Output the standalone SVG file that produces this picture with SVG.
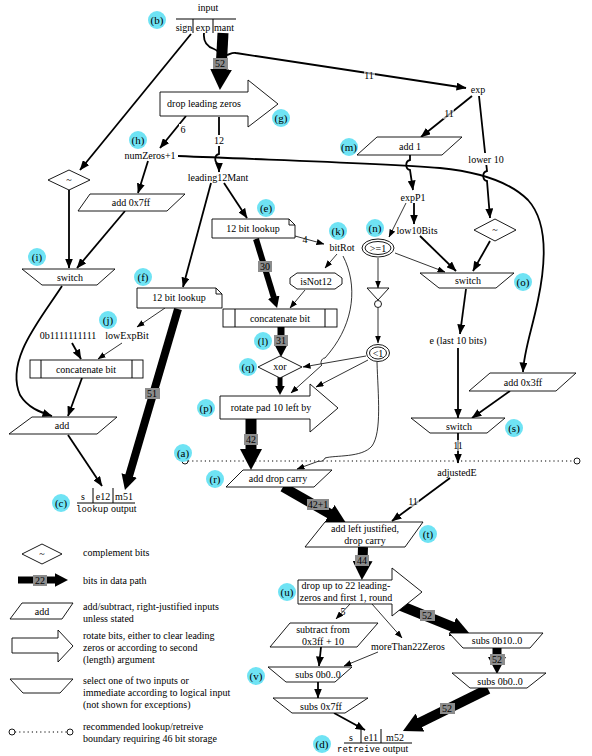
<svg xmlns="http://www.w3.org/2000/svg" width="592" height="756" viewBox="0 0 592 756">
<style>
text{font-family:"Liberation Serif",serif;font-size:10px;fill:#000}
.m{text-anchor:middle}
.mono{font-family:"Liberation Mono",monospace}
.n{fill:#fff;stroke:#000;stroke-width:0.9}
.e2{fill:none;stroke:#000;stroke-width:1.8;marker-end:url(#a2)}
.e1{fill:none;stroke:#000;stroke-width:0.8;marker-end:url(#a1)}
.t{fill:none;stroke:#000;marker-end:url(#at)}
.gl{fill:#8c8c8c}
.wl{fill:#fff}
.bd circle{fill:#6fe3f4}
.bd text{font-size:11px;text-anchor:middle}
.ln{fill:none;stroke:#000;stroke-width:1}
</style>
<defs>
<marker id="a2" markerUnits="userSpaceOnUse" markerWidth="10" markerHeight="8" refX="9.5" refY="4" orient="auto"><path d="M0,0 L10,4 L0,8 z"/></marker>
<marker id="a1" markerUnits="userSpaceOnUse" markerWidth="8" markerHeight="6" refX="7.5" refY="3" orient="auto"><path d="M0,0 L8,3 L0,6 z"/></marker>
<marker id="at" markerUnits="strokeWidth" markerWidth="2" markerHeight="2" refX="0.1" refY="1" orient="auto" viewBox="0 0 2 2"><path d="M0,0 L1.9,1 L0,2 z"/></marker>
</defs>

<g id="connectors">
<!-- thick data paths -->
<path class="t" stroke-width="11" d="M223,33 L221,70.2"/>
<path class="t" stroke-width="6" d="M256,239 L273.9,297.7"/>
<path class="t" stroke-width="7" d="M281,327 L281,344.4"/>
<path class="t" stroke-width="5" d="M280,377 L280,386"/>
<path class="t" stroke-width="11" d="M251,419 L251,450.2"/>
<path class="t" stroke-width="10" d="M283,487 L330.4,514.1"/>
<path class="t" stroke-width="10" d="M363,547 L362.5,562"/>
<path class="t" stroke-width="8" d="M178,309 L129,476.2"/>
<path class="t" stroke-width="10" d="M394,603 L453.3,627.2"/>
<path class="t" stroke-width="9" d="M497,648 L497,657.8"/>
<path class="t" stroke-width="10" d="M488,689 L419.1,723"/>
<!-- thin / medium -->
<path class="e2" d="M204,33 C203,42 208,47 214,49 C219,51 220,55 226,55 C230,55 231,52 236,53 L466,88"/>
<path class="e2" d="M191,34 L80,170"/>
<path class="e2" d="M69,190 L69,268"/>
<path class="e2" d="M186,116 L160,148"/>
<path class="e2" d="M219,117 L219,154 c-5,1 -5,9 0,10 L219,172"/>
<path class="e2" d="M178,156 C300,161 380,163 440,168 C480,172 510,182 528,200 C548,222 546,262 538,300 C532,330 524,350 523,372"/>
<path class="e2" d="M148,161 L138,193"/>
<path class="e2" d="M125,211 L77,268"/>
<path class="e2" d="M62,286 C40,320 5,360 20,395 C28,408 40,412 52,416"/>
<path class="e2" d="M211,183 L183,287"/>
<path class="e2" d="M224,183 L247,218"/>
<path class="e1" d="M295,236 L324,244"/>
<path class="e1" d="M337,254 L325,268"/>
<path class="e1" d="M305,290 L290,308"/>
<path class="e1" d="M343,256 C358,285 354,322 330,352 L325,358 c-4,0 -5,6 -3,7 L291,393"/>
<path class="e1" d="M366,356 L303,367"/>
<path class="e1" d="M368,360 L316,387"/>
<path class="e1" d="M377,362 C378,395 382,432 372,446 C362,458 335,455 325,458 c-1,3 -5,4 -6,3 L297,469"/>
<path class="e2" d="M472,96 L421,137"/>
<path class="e2" d="M479,96 L487,171 c-5,1 -5,9 0,10 L490,218"/>
<path class="e2" d="M410,155 L410,160 c-5,1 -5,9 0,10 L413,190"/>
<path class="e1" d="M406,203 L389,237"/>
<path class="e2" d="M414,203 L414,224"/>
<path class="e1" d="M378,258 L378,288"/>
<path class="e1" d="M378,308 L378,343"/>
<path class="e1" d="M395,253 L445,272"/>
<path class="e2" d="M420,236 L456,271"/>
<path class="e2" d="M490,241 L473,271"/>
<path class="e2" d="M466,289 L460,334"/>
<path class="e2" d="M458,348 L458,418"/>
<path class="e2" d="M510,391 L472,418"/>
<path class="e2" d="M458,433 L458,463"/>
<path class="e2" d="M450,478 L392,521"/>
<path class="e2" d="M72,343 L81,359"/>
<path class="e1" d="M122,343 L98,359"/>
<path class="e1" d="M165,308 L137,327"/>
<path class="e2" d="M82,378 L68,416"/>
<path class="e2" d="M68,435 L102,486"/>
<path class="e1" d="M350,604 L336,619"/>
<path class="e1" d="M372,604 L402,638"/>
<path class="e1" d="M378,652 L344,666"/>
<path class="e2" d="M321,647 L319,666"/>
<path class="e2" d="M318,682 L318,698"/>
<path class="e2" d="M334,713 L365,730"/>
<!-- boundary -->
<line x1="188" y1="461" x2="574" y2="461" stroke="#000" stroke-width="1" stroke-dasharray="1.2,3"/>
<circle cx="185" cy="461" r="3" class="n"/>
<circle cx="577" cy="461" r="3" class="n"/>
<!-- edge labels -->
<rect class="gl" x="213" y="58" width="15" height="11"/><text class="m" x="220" y="67">52</text>
<rect class="wl" x="364" y="70" width="11" height="11" fill-opacity="0.6"/><text class="m" x="369" y="79">11</text>
<rect class="wl" x="179" y="124" width="8" height="11"/><text class="m" x="183" y="133">6</text>
<rect class="wl" x="213" y="135" width="12" height="11"/><text class="m" x="219" y="144">12</text>
<rect class="wl" x="443" y="108" width="11" height="11" fill-opacity="0.6"/><text class="m" x="449" y="117">11</text>
<rect class="wl" x="466" y="153" width="40" height="12"/><text class="m" x="486" y="163">lower 10</text>
<text class="m" x="305" y="243">4</text>
<rect class="gl" x="258" y="261" width="14" height="11"/><text class="m" x="265" y="270">30</text>
<rect class="gl" x="274" y="335" width="14" height="11"/><text class="m" x="281" y="344">31</text>
<rect class="gl" x="244" y="434" width="14" height="11"/><text class="m" x="251" y="443">42</text>
<rect class="gl" x="307" y="499" width="22" height="11"/><text class="m" x="318" y="508">42+1</text>
<rect class="wl" x="452" y="440" width="12" height="11" fill-opacity="0.6"/><text class="m" x="458" y="449">11</text>
<rect class="wl" x="408" y="496" width="11" height="11" fill-opacity="0.6"/><text class="m" x="413" y="505">11</text>
<rect class="gl" x="145" y="388" width="15" height="11"/><text class="m" x="152" y="397">51</text>
<rect class="gl" x="355" y="555" width="14" height="11"/><text class="m" x="362" y="564">44</text>
<text class="m" x="343" y="615">5</text>
<rect class="gl" x="420" y="610" width="15" height="11"/><text class="m" x="427" y="619">52</text>
<rect class="gl" x="490" y="654" width="15" height="11"/><text class="m" x="497" y="663">52</text>
<rect class="gl" x="440" y="703" width="15" height="11"/><text class="m" x="447" y="712">52</text>
</g>

<g id="input">
<text class="m" x="208" y="11">input</text>
<line x1="176" y1="19" x2="236" y2="19" class="ln"/>
<line x1="193" y1="19" x2="193" y2="33" class="ln"/>
<line x1="213" y1="19" x2="213" y2="33" class="ln"/>
<text class="m" x="184" y="31">sign</text>
<text class="m" x="203" y="31">exp</text>
<text class="m" x="224" y="31">mant</text>
</g>
<g id="dropLeadingZeros">
<polygon class="n" points="160,92 248,92 248,80 278,104 248,127 248,116 160,116"/>
<text class="m" x="204" y="107">drop leading zeros</text>
</g>
<g id="numZeros"><text class="m" x="150" y="159">numZeros+1</text></g>
<g id="leading12Mant"><text class="m" x="218" y="181">leading12Mant</text></g>
<g id="exp"><text class="m" x="478" y="93">exp</text></g>
<g id="add1">
<polygon class="n" points="377,137 462,137 442,155 357,155"/>
<text class="m" x="410" y="150">add 1</text>
</g>
<g id="compL">
<polygon class="n" points="48,180 69,170 90,180 69,190"/>
<text class="m" x="69" y="183">~</text>
</g>
<g id="add7ff">
<polygon class="n" points="90,194 185,194 167,211 78,211"/>
<text class="m" x="131" y="206">add 0x7ff</text>
</g>
<g id="switchI">
<polygon class="n" points="22,269 115,269 97,285 42,285"/>
<text class="m" x="70" y="281">switch</text>
</g>
<g id="lookupE">
<path class="n" d="M212,219 H289 L295,225 V238 H212 Z M289,219 V225 H295"/>
<text class="m" x="253" y="232">12 bit lookup</text>
</g>
<g id="lookupF">
<path class="n" d="M137,288 H216 L222,294 V308 H137 Z M216,288 V294 H222"/>
<text class="m" x="179" y="301">12 bit lookup</text>
</g>
<g id="bitRot"><text class="m" x="342" y="251">bitRot</text></g>
<g id="isNot12">
<polygon class="n" points="297,273 335,273 342,278 342,284 335,289 297,289 290,284 290,278"/>
<text class="m" x="316" y="285">isNot12</text>
</g>
<g id="concatMid">
<rect class="n" x="223" y="309" width="114" height="18"/>
<line class="ln" x1="235" y1="309" x2="235" y2="327"/>
<line class="ln" x1="325" y1="309" x2="325" y2="327"/>
<text class="m" x="280" y="322">concatenate bit</text>
</g>
<g id="xor">
<polygon class="n" points="258,367 280,356 302,367 280,378"/>
<text class="m" x="280" y="370">xor</text>
</g>
<g id="expP1"><text class="m" x="413" y="201">expP1</text></g>
<g id="low10Bits"><text class="m" x="417" y="234">low10Bits</text></g>
<g id="ge1">
<ellipse class="n" cx="378" cy="248" rx="16" ry="9"/>
<ellipse class="n" cx="378" cy="248" rx="13" ry="6.5"/>
<text class="m" x="378" y="251.5">&gt;=1</text>
</g>
<g id="not">
<polygon class="n" points="367,288 389,288 378,300"/>
<circle class="n" cx="378" cy="304" r="3.5"/>
</g>
<g id="lt1">
<ellipse class="n" cx="378" cy="353" rx="11.5" ry="8.5"/>
<ellipse class="n" cx="378" cy="353" rx="8.5" ry="6"/>
<text class="m" x="378" y="356.5">&lt;1</text>
</g>
<g id="compO">
<polygon class="n" points="474,230 495,219 516,230 495,241"/>
<text class="m" x="495" y="233">~</text>
</g>
<g id="switchO">
<polygon class="n" points="420,273 514,273 496,288 439,288"/>
<text class="m" x="468" y="284">switch</text>
</g>
<g id="eLast"><text class="m" x="458" y="344">e (last 10 bits)</text></g>
<g id="add3ff">
<polygon class="n" points="490,373 576,373 556,391 469,391"/>
<text class="m" x="523" y="386">add 0x3ff</text>
</g>
<g id="switchS">
<polygon class="n" points="411,418 505,418 487,433 430,433"/>
<text class="m" x="459" y="430">switch</text>
</g>
<g id="adjustedE"><text class="m" x="457" y="476">adjustedE</text></g>
<g id="constOnes"><text class="m" x="68" y="339">0b1111111111</text></g>
<g id="lowExpBit"><text class="m" x="127" y="339">lowExpBit</text></g>
<g id="concatLeft">
<rect class="n" x="30" y="360" width="113" height="18"/>
<line class="ln" x1="41" y1="360" x2="41" y2="378"/>
<line class="ln" x1="132" y1="360" x2="132" y2="378"/>
<text class="m" x="86" y="373">concatenate bit</text>
</g>
<g id="addLeft">
<polygon class="n" points="32,417 117,417 97,434 9,434"/>
<text class="m" x="62" y="429">add</text>
</g>
<g id="rotatePad">
<polygon class="n" points="220,396 310,396 310,384 338,408 310,432 310,419 220,419"/>
<text class="m" x="271" y="411">rotate pad 10 left by</text>
</g>
<g id="addDropCarry">
<polygon class="n" points="243,470 332,470 314,487 226,487"/>
<text class="m" x="278" y="482">add drop carry</text>
</g>
<g id="lookupOutput">
<line class="ln" x1="77" y1="503" x2="135" y2="503"/>
<line class="ln" x1="93" y1="488" x2="93" y2="503"/>
<line class="ln" x1="113" y1="488" x2="113" y2="503"/>
<text class="m" x="83" y="500">s</text>
<text class="m" x="103" y="500">e12</text>
<text class="m" x="124" y="500">m51</text>
<text x="76" y="512"><tspan class="mono" font-size="9">lookup</tspan> output</text>
</g>
<g id="addLeftJustified">
<polygon class="n" points="325,522 423,522 405,547 305,547"/>
<text class="m" x="365" y="532">add left justified,</text>
<text class="m" x="365" y="544">drop carry</text>
</g>
<g id="drop22">
<polygon class="n" points="298,580 392,580 392,568 422,592 392,616 392,604 298,604"/>
<text class="m" x="346" y="589">drop up to 22 leading-</text>
<text class="m" x="346" y="601">zeros and first 1, round</text>
</g>
<g id="subtract">
<polygon class="n" points="290,623 378,623 357,647 270,647"/>
<text class="m" x="323" y="633">subtract from</text>
<text class="m" x="323" y="645">0x3ff + 10</text>
</g>
<g id="moreThan22Zeros"><text class="m" x="408" y="650">moreThan22Zeros</text></g>
<g id="subsV">
<polygon class="n" points="268,667 352,667 335,682 286,682"/>
<text class="m" x="318" y="678">subs 0b0..0</text>
</g>
<g id="subs7ff">
<polygon class="n" points="273,698 368,698 345,713 292,713"/>
<text class="m" x="321" y="710">subs 0x7ff</text>
</g>
<g id="subs10">
<polygon class="n" points="449,633 543,633 530,648 463,648"/>
<text class="m" x="497" y="644">subs 0b10..0</text>
</g>
<g id="subs0R">
<polygon class="n" points="452,673 546,673 527,688 470,688"/>
<text class="m" x="500" y="685">subs 0b0..0</text>
</g>
<g id="retreiveOutput">
<line class="ln" x1="344" y1="743" x2="412" y2="743"/>
<line class="ln" x1="361" y1="729" x2="361" y2="743"/>
<line class="ln" x1="381" y1="729" x2="381" y2="743"/>
<text class="m" x="351" y="741">s</text>
<text class="m" x="371" y="741">e11</text>
<text class="m" x="395" y="741">m52</text>
<text x="337" y="752"><tspan class="mono" font-size="9">retreive</tspan> output</text>
</g>

<g id="legend">
<polygon class="n" points="22,554 42,544 62,554 42,564"/>
<text class="m" x="42" y="557">~</text>
<text x="83" y="556">complement bits</text>
<path class="t" stroke-width="7" d="M18,580 L55.4,580"/>
<rect class="gl" x="33" y="575" width="14" height="11"/><text class="m" x="40" y="584">22</text>
<text x="83" y="584">bits in data path</text>
<polygon class="n" points="22,603 73,603 62,619 10,619"/>
<text class="m" x="42" y="615">add</text>
<text x="83" y="610">add/subtract, right-justified inputs</text>
<text x="83" y="622">unless stated</text>
<polygon class="n" points="12,638 58,638 58,630 73,646 58,662 58,653 12,653"/>
<text x="83" y="639">rotate bits, either to clear leading</text>
<text x="83" y="651">zeros or according to second</text>
<text x="83" y="663">(length) argument</text>
<polygon class="n" points="10,679 73,679 60,693 23,693"/>
<text x="83" y="684">select one of two inputs or</text>
<text x="83" y="696">immediate according to logical input</text>
<text x="83" y="708">(not shown for exceptions)</text>
<line x1="15" y1="732" x2="67" y2="732" stroke="#000" stroke-width="1" stroke-dasharray="1.2,3"/>
<circle class="n" cx="12" cy="732" r="3"/>
<circle class="n" cx="70" cy="732" r="3"/>
<text x="83" y="730">recommended lookup/retreive</text>
<text x="83" y="742">boundary requiring 46 bit storage</text>
</g>

<g id="badges" class="bd">
<circle cx="157" cy="20" r="9"/><text x="157" y="24">(b)</text>
<circle cx="281" cy="118" r="9"/><text x="281" y="122">(g)</text>
<circle cx="138" cy="140" r="9"/><text x="138" y="144">(h)</text>
<circle cx="349" cy="147" r="9"/><text x="349" y="151">(m)</text>
<circle cx="266" cy="208" r="9"/><text x="266" y="212">(e)</text>
<circle cx="338" cy="231" r="9"/><text x="338" y="235">(k)</text>
<circle cx="375" cy="228" r="9"/><text x="375" y="232">(n)</text>
<circle cx="37" cy="257" r="9"/><text x="37" y="261">(i)</text>
<circle cx="143" cy="277" r="9"/><text x="143" y="281">(f)</text>
<circle cx="108" cy="320" r="9"/><text x="108" y="324">(j)</text>
<circle cx="523" cy="282" r="9"/><text x="523" y="286">(o)</text>
<circle cx="263" cy="341" r="9"/><text x="263" y="345">(l)</text>
<circle cx="248" cy="367" r="9"/><text x="248" y="371">(q)</text>
<circle cx="206" cy="408" r="9"/><text x="206" y="412">(p)</text>
<circle cx="514" cy="428" r="9"/><text x="514" y="432">(s)</text>
<circle cx="183" cy="453" r="9"/><text x="183" y="457">(a)</text>
<circle cx="215" cy="479" r="9"/><text x="215" y="483">(r)</text>
<circle cx="61" cy="503" r="9"/><text x="61" y="507">(c)</text>
<circle cx="428" cy="534" r="9"/><text x="428" y="538">(t)</text>
<circle cx="287" cy="592" r="9"/><text x="287" y="596">(u)</text>
<circle cx="256" cy="676" r="9"/><text x="256" y="680">(v)</text>
<circle cx="322" cy="744" r="9"/><text x="322" y="748">(d)</text>
</g>
</svg>
